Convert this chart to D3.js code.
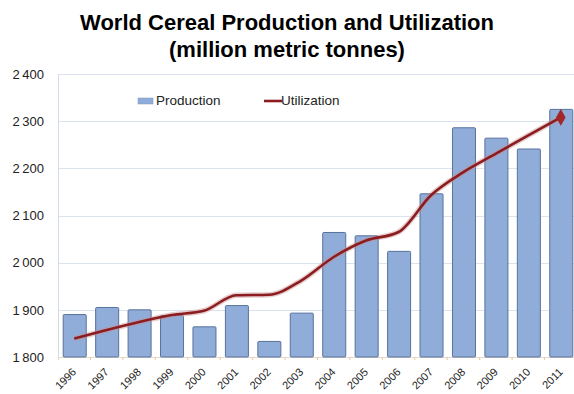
<!DOCTYPE html>
<html>
<head>
<meta charset="utf-8">
<script src="https://cdn.jsdelivr.net/npm/d3@7/dist/d3.min.js"></script>
<style>
  html, body { margin: 0; padding: 0; background: #fff; }
  svg { display: block; font-family: "Liberation Sans", Arial, sans-serif; }
</style>
</head>
<body>
<svg id="chart" width="574" height="394"></svg>
<script>
// World cereal production and utilization, million metric tonnes
const years = ["1996","1997","1998","1999","2000","2001","2002","2003",
               "2004","2005","2006","2007","2008","2009","2010","2011"];
const production  = [1890, 1905, 1900, 1888, 1864, 1909, 1833, 1893,
                     2064, 2057, 2024, 2146, 2286, 2264, 2241, 2325];
const utilization = [1839, 1857, 1874, 1889, 1898, 1931, 1932, 1962,
                     2012, 2047, 2065, 2143, 2192, 2231, 2270, 2308];
const yTicks = [1800, 1900, 2000, 2100, 2200, 2300, 2400];
const title = ["World Cereal Production and Utilization", "(million metric tonnes)"];
const seriesNames = ["Production", "Utilization"];

const svg = d3.select("#chart");
const W = 574, H = 394;
const margin = { left: 58, right: -3, top: 74, bottom: 37 };

const x = d3.scaleBand().domain(years)
  .range([margin.left, W - margin.right])
  .paddingInner(0.29).paddingOuter(0.145);
const y = d3.scaleLinear().domain([1800, 2400]).range([H - margin.bottom, margin.top]);

// title
svg.append("g").selectAll("text").data(title).join("text")
  .attr("x", 287).attr("y", (d, i) => 30 + i * 27)
  .attr("text-anchor", "middle")
  .attr("font-size", 22).attr("font-weight", "bold").attr("fill", "#000")
  .text(d => d);

// gridlines
svg.append("g").selectAll("line").data(yTicks.slice(1)).join("line")
  .attr("x1", margin.left).attr("x2", W)
  .attr("y1", d => Math.round(y(d)) + 0.5).attr("y2", d => Math.round(y(d)) + 0.5)
  .attr("stroke", "#dbe3f1").attr("stroke-width", 1);

// y axis
const yAxis = svg.append("g")
  .attr("transform", `translate(${margin.left},0)`)
  .call(d3.axisLeft(y).tickValues(yTicks).tickSize(0).tickPadding(14)
    .tickFormat(d => d3.format(",")(d).replace(",", "\u2009")));
yAxis.select(".domain").attr("stroke", "#d4dbe6");
yAxis.selectAll("text").attr("font-size", 13).attr("fill", "#222")
  .attr("font-family", "\"Liberation Sans\", Arial, sans-serif");

// x axis
const xAxis = svg.append("g")
  .attr("transform", `translate(0,${y(1800)})`)
  .call(d3.axisBottom(x).tickSize(3));
xAxis.select(".domain").attr("stroke", "#e6d8c8");
xAxis.selectAll(".tick line").attr("stroke", "#e8c9a8")
  .attr("transform", `translate(${x.step() / 2},0)`);
xAxis.selectAll("text")
  .attr("font-size", 11).attr("fill", "#222")
  .attr("font-family", "\"Liberation Sans\", Arial, sans-serif")
  .attr("text-anchor", "end")
  .attr("x", 0).attr("y", 0).attr("dx", 0).attr("dy", "0.35em")
  .attr("transform", "translate(0,13) rotate(-45)");

// production bars
svg.append("g").selectAll("rect").data(production).join("rect")
  .attr("x", (d, i) => x(years[i]) + 0.5)
  .attr("y", d => y(d))
  .attr("width", x.bandwidth())
  .attr("height", d => y(1800) - y(d))
  .attr("fill", "#90acd9").attr("stroke", "#58729c").attr("stroke-width", 1)
  .attr("rx", 1);

// utilization line with soft shadow
const line = d3.line()
  .x((d, i) => x(years[i]) + x.bandwidth() / 2)
  .y(d => y(d))
  .curve(d3.curveMonotoneX);
svg.append("path").datum(utilization)
  .attr("d", line).attr("fill", "none")
  .attr("stroke", "#c89090").attr("stroke-opacity", 0.45).attr("stroke-width", 5.5)
  .attr("stroke-linejoin", "round");
svg.append("path").datum(utilization)
  .attr("d", line).attr("fill", "none")
  .attr("stroke", "#8c1c1f").attr("stroke-width", 2.6)
  .attr("stroke-linejoin", "round");

// end marker on the final year
const last = utilization.length - 1;
svg.append("path")
  .attr("d", d3.symbol(d3.symbolDiamond, 80)())
  .attr("transform", `translate(${x(years[last]) + x.bandwidth() / 2},${y(utilization[last])})`)
  .attr("fill", "#a3262a");

// legend
const lg = svg.append("g");
lg.append("rect").attr("x", 138).attr("y", 98).attr("width", 15).attr("height", 6)
  .attr("fill", "#90acd9").attr("stroke", "#7c98c4").attr("stroke-width", 0.5);
lg.append("text").attr("x", 156).attr("y", 105).attr("font-size", 13.5).attr("fill", "#222")
  .text(seriesNames[0]);
lg.append("line").attr("x1", 264).attr("x2", 282).attr("y1", 101).attr("y2", 101)
  .attr("stroke", "#8c1c1f").attr("stroke-width", 2.6);
lg.append("text").attr("x", 281).attr("y", 105).attr("font-size", 13.5).attr("fill", "#222")
  .text(seriesNames[1]);
</script>
</body>
</html>
